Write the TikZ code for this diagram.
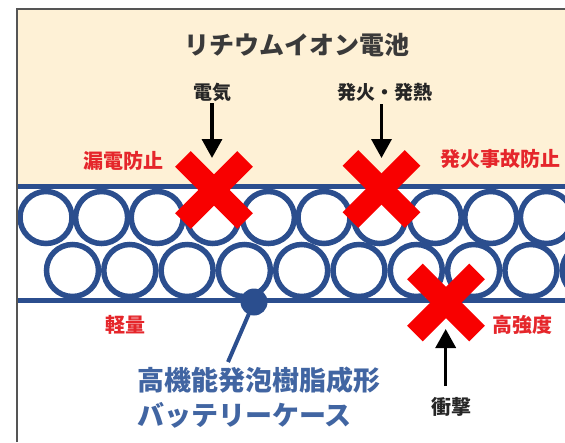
\documentclass[tikz,border=0pt]{standalone}
\usepackage{fontspec}
\newfontfamily\jp{Noto Sans CJK JP}
\usetikzlibrary{arrows.meta}
\definecolor{beige}{HTML}{FEF1D6}
\definecolor{navy}{HTML}{2B4E8E}
\definecolor{txtblue}{HTML}{4165A2}
\definecolor{xred}{HTML}{F80000}
\definecolor{lblred}{HTML}{E5262B}
\definecolor{framegray}{HTML}{555555}
\definecolor{titlegray}{HTML}{3A3A3A}
\begin{document}
\begin{tikzpicture}[x=1pt,y=-1pt,
  bubble/.style={draw=navy,line width=5.5pt,fill=white},
  xbar/.style={fill=xred,minimum width=88pt,minimum height=22pt,inner sep=0pt,outer sep=0pt},
  redlbl/.style={text=lblred,inner sep=0pt,font=\jp\bfseries\fontsize{20}{24}\selectfont},
  blklbl/.style={text=black!85,inner sep=2pt,font=\jp\bfseries\fontsize{19}{23}\selectfont},
  bluelbl/.style={text=txtblue,inner sep=0pt,anchor=west,font=\jp\bfseries\fontsize{27}{32}\selectfont},
  arr/.style={line width=3.5pt,-{Triangle[width=20pt,length=19pt]}},
  wall/.style={navy,line width=5pt}]
\useasboundingbox (0,0) rectangle (565,442);
\fill[white] (0,0) rectangle (565,442);
% beige area
\fill[beige] (17,9) rectangle (565,186);
% circles
\begin{scope}
\clip (17.5,186) rectangle (565,300);
\foreach \k in {0,...,9} {
  \path[bubble] ({46+55.6*\k},217.5) circle[radius=26pt];
}
\foreach \k in {0,...,9} {
  \path[bubble] ({72.5+57.3*\k},270.5) circle[radius=26pt];
}
\end{scope}
% walls
\coordinate (wt1) at (17.5,186);
\coordinate (wt2) at (565,186);
\coordinate (wb1) at (17.5,300);
\coordinate (wb2) at (565,300);
\draw[wall] (wt1) -- (wt2);
\draw[wall] (wb1) -- (wb2);
% frame
\coordinate (f1) at (16.5,442);
\coordinate (f2) at (16.5,9);
\coordinate (f3) at (565,9);
\draw[framegray,line width=2pt] (f1) -- (f2) -- (f3);
% title
\node[text=titlegray,inner sep=0pt,font=\jp\bfseries\fontsize{25}{30}\selectfont] (title) at (297,45) {リチウムイオン電池};
% red crosses
\node[xbar,rotate=45] (x1a) at (214,190) {};
\node[xbar,rotate=-45] (x1b) at (214,190) {};
\node[xbar,rotate=45] (x2a) at (381.5,189) {};
\node[xbar,rotate=-45] (x2b) at (381.5,189) {};
\node[xbar,rotate=45] (x3a) at (446,302.5) {};
\node[xbar,rotate=-45] (x3b) at (446,302.5) {};
% top labels and arrows
\node[blklbl] (elec) at (212,92) {電気};
\node[blklbl] (fire) at (385,92) {発火・発熱};
\coordinate (a1e) at (212,158);
\coordinate (a2s) at (381.5,104);
\coordinate (a2e) at (381.5,158);
\draw[arr] (elec.south) -- (a1e);
\draw[arr] (a2s) -- (a2e);
\node[redlbl] (leak) at (123,161) {漏電防止};
\node[redlbl] (fireprev) at (500,159) {発火事故防止};
% bottom labels
\node[redlbl] (light) at (125,325) {軽量};
\node[redlbl] (strong) at (522,325) {高強度};
\node[blklbl,font=\jp\bfseries\fontsize{20}{24}\selectfont] (shock) at (451,407) {衝撃};
\coordinate (a3s) at (445.7,386);
\coordinate (a3e) at (445.7,329);
\draw[arr] (a3s) -- (a3e);
% pointer dot
\node[circle,fill=navy,minimum size=27pt,inner sep=0pt] (dot) at (254,302) {};
\coordinate (dotend) at (228,362);
\draw[navy,line width=4pt] (dot.center) -- (dotend);
\node[bluelbl] (case1) at (137,380) {高機能発泡樹脂成形};
\node[bluelbl] (case2) at (137,415) {バッテリーケース};
\end{tikzpicture}
\end{document}
